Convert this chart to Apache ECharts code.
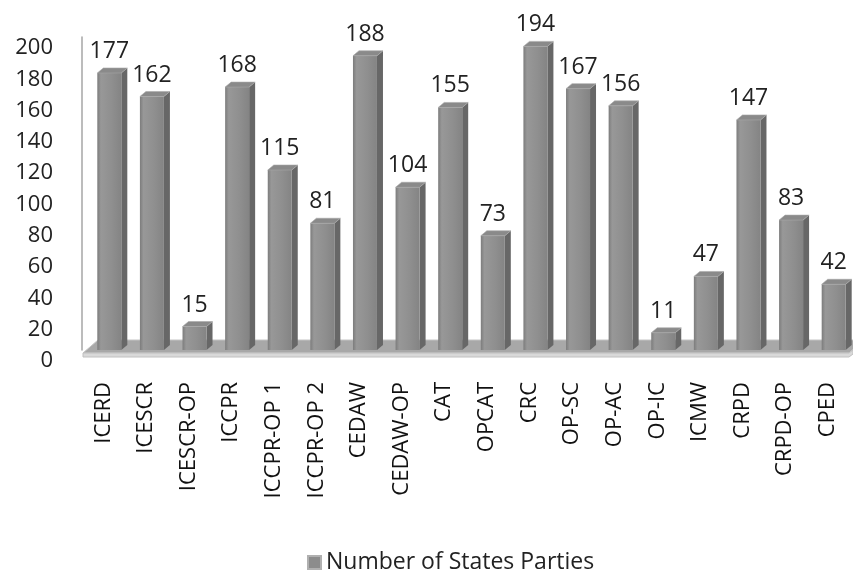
<!DOCTYPE html>
<html>
<head>
<meta charset="utf-8">
<script src="https://cdn.jsdelivr.net/npm/echarts@6/dist/echarts.min.js"></script>
<style>
  html, body { margin: 0; padding: 0; background: #fff; }
  #chart { width: 853px; height: 574px; }
</style>
</head>
<body>
<div id="chart"></div>
<script>
var categories = ['ICERD', 'ICESCR', 'ICESCR-OP', 'ICCPR', 'ICCPR-OP 1', 'ICCPR-OP 2', 'CEDAW', 'CEDAW-OP', 'CAT',
  'OPCAT', 'CRC', 'OP-SC', 'OP-AC', 'OP-IC', 'ICMW', 'CRPD', 'CRPD-OP', 'CPED'];
var states = [177, 162, 15, 168, 115, 81, 188, 104, 155, 73, 194, 167, 156, 11, 47, 147, 83, 42];
var seriesName = 'Number of States Parties';

var FONT = '"Open Sans", "DejaVu Sans", sans-serif';
var SHIFT = 6;   // bars sit a bit back on the floor
var BAR_W = 24, DX = 6, DY = -5;

var frontFill = {
  type: 'linear', x: 0, y: 0, x2: 1, y2: 0,
  colorStops: [
    { offset: 0, color: '#7c7c7c' },
    { offset: 0.15, color: '#989898' },
    { offset: 0.6, color: '#8f8f8f' },
    { offset: 1, color: '#848484' }
  ]
};

function renderBar(params, api) {
  var top = api.coord([api.value(0), api.value(1)]);
  var bot = api.coord([api.value(0), 0]);
  var x = top[0] + SHIFT;
  var l = x - BAR_W / 2, r = x + BAR_W / 2;
  var ty = top[1], by = bot[1];
  return {
    type: 'group',
    children: [
      { type: 'polygon', shape: { points: [[r, ty], [r + DX, ty + DY], [r + DX, by + DY], [r, by]] },
        style: { fill: '#676767' } },
      { type: 'rect', shape: { x: l, y: ty, width: BAR_W, height: by - ty }, style: { fill: frontFill } },
      { type: 'polygon', shape: { points: [[l, ty], [l + DX, ty + DY], [r + DX, ty + DY], [r, ty]] },
        style: { fill: '#8a8a8a', stroke: '#a8a8a8', lineWidth: 0.6 } },
      { type: 'text', style: { text: String(api.value(1)), x: x, y: ty - 10, align: 'center',
        verticalAlign: 'bottom', font: '23px ' + FONT, fill: '#222' } }
    ]
  };
}

function renderFloor(params, api) {
  var cs = params.coordSys;
  var base = cs.y + cs.height + 3;
  var x0 = cs.x + 1, x1 = cs.x + cs.width;
  return {
    type: 'group',
    silent: true,
    children: [
      { type: 'polygon', shape: { points: [[x0, base], [x0 + 15, base - 13], [x1 + 15, base - 13], [x1, base]] },
        style: { fill: '#a8a8a8', stroke: '#c4c4c4', lineWidth: 1 } },
      { type: 'polygon', shape: { points: [[x0, base], [x1, base], [x1 + 4, base - 3], [x1 + 4, base + 1], [x1, base + 4], [x0, base + 4]] },
        style: { fill: '#d9d9d9', stroke: '#c0c0c0', lineWidth: 1 } }
    ]
  };
}

var chart = echarts.init(document.getElementById('chart'));
chart.setOption({
  animation: false,
  grid: { left: 82, right: 4, top: 37, bottom: 224 },
  legend: {
    data: [seriesName],
    left: 302, top: 546,
    icon: 'rect', itemWidth: 13, itemHeight: 13, itemGap: 9,
    textStyle: { fontFamily: FONT, fontSize: 23, color: '#222' }
  },
  xAxis: {
    type: 'category',
    data: categories,
    axisLine: { show: false },
    axisTick: { show: false },
    axisLabel: { rotate: 90, margin: 32, interval: 0, fontFamily: FONT, fontSize: 22, color: '#111' }
  },
  yAxis: {
    type: 'value',
    min: 0, max: 200, interval: 20,
    splitLine: { show: false },
    axisLine: { show: true, lineStyle: { color: '#a6a6a6', width: 1.5 } },
    axisTick: { show: false },
    axisLabel: { margin: 29, fontFamily: FONT, fontSize: 22, color: '#222', verticalAlign: 'top' }
  },
  series: [
    {
      type: 'custom',
      name: 'floor',
      renderItem: renderFloor,
      data: [[0, 0]],
      z: 1,
      silent: true
    },
    {
      type: 'custom',
      name: seriesName,
      renderItem: renderBar,
      itemStyle: { color: '#8c8c8c', borderColor: '#b0b0b0', borderWidth: 1 },
      encode: { x: 0, y: 1 },
      data: states.map(function (v, i) { return [i, v]; }),
      z: 2
    }
  ]
});
</script>
</body>
</html>
